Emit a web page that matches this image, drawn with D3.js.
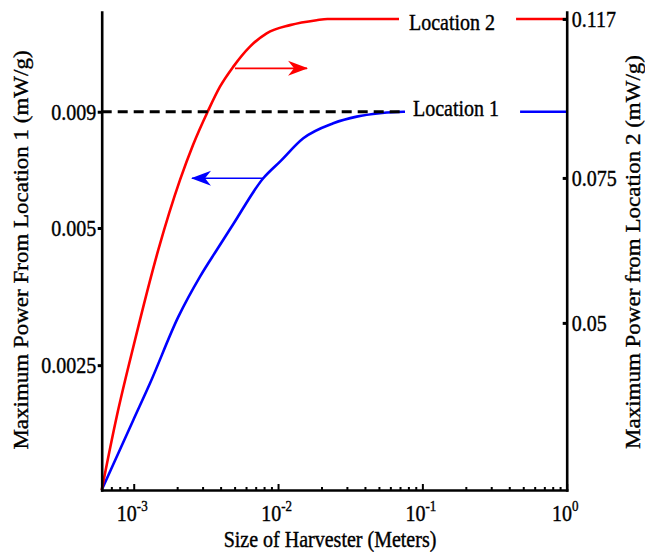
<!DOCTYPE html>
<html>
<head>
<meta charset="utf-8">
<script src="https://cdn.jsdelivr.net/npm/d3@7"></script>
<style>
  html, body { margin: 0; padding: 0; background: #fff; }
  svg { display: block; }
  text { font-family: "Liberation Serif", "Times New Roman", serif; fill: #000; stroke: #000; stroke-width: 0.35px; }
</style>
</head>
<body>
<svg id="chart" width="645" height="552"></svg>
<script>
// Harvester size (m) and maximum power for each location
const sizesLoc1 = [6e-4, 9.94e-4, 1.297e-3, 2.04e-3, 2.88e-3, 3.76e-3, 4.90e-3, 7.90e-3, 0.01032, 0.01496, 0.02414, 0.0351, 0.0508, 0.0738, 0.2, 1];
const powerLoc1 = [0.00133, 0.001895, 0.002281, 0.003194, 0.003911, 0.004475, 0.005102, 0.00643, 0.006995, 0.00787, 0.00849, 0.00878, 0.00893, 0.009, 0.009, 0.009];

const sizesLoc2 = [6e-4, 7.62e-4, 9.94e-4, 1.48e-3, 2.093e-3, 2.575e-3, 3.271e-3, 3.96e-3, 4.90e-3, 6.39e-3, 8.34e-3, 0.0121, 0.0185, 0.022, 0.05, 0.2, 1];
const powerLoc2 = [0.03133, 0.03846, 0.04677, 0.06132, 0.07458, 0.08225, 0.09046, 0.09681, 0.1024, 0.1083, 0.1124, 0.1150, 0.1166, 0.117, 0.117, 0.117, 0.117];

// Axis domains and ticks
const sizeDomain = [6e-4, 1];
const loc1Domain = [0.00133, 0.0149];
const loc2Domain = [0.03133, 0.1193];
const sizeTicks = [-3, -2, -1, 0];
const loc1Ticks = [0.0025, 0.005, 0.009];
const loc1TickLabels = ["0.0025", "0.005", "0.009"];
const loc2Ticks = [0.05, 0.075, 0.117];
const loc2TickLabels = ["0.05", "0.075", "0.117"];

// Peak-power reference line for location 1
const refLevel = 0.009;
const refSpan = [6e-4, 0.072];

// Direction arrows: [start size, end size, power]
const arrowLoc2 = [5.03e-3, 0.01588, 0.1019];
const arrowLoc1 = [7.87e-3, 2.535e-3, 0.00643];

const seriesNames = ["Location 1", "Location 2"];

const svg = d3.select("#chart");
const plotLeft = 101.7, plotRight = 566.7, plotTop = 12, plotBottom = 490;
const stretch = 1.15;

const x = d3.scaleLog().domain(sizeDomain).range([plotLeft, plotRight]);
const yL = d3.scaleLog().domain(loc1Domain).range([plotBottom, plotTop]);
const yR = d3.scaleLog().domain(loc2Domain).range([plotBottom, plotTop]);

function hText(parent, px, py, str, anchor, size) {
  return parent.append("text")
    .attr("transform", `translate(${px},${py}) scale(1,${stretch})`)
    .attr("text-anchor", anchor)
    .attr("font-size", size || 20)
    .text(str);
}

// Curves
const line1 = d3.line().x((d, i) => x(sizesLoc1[i])).y(d => yL(d)).curve(d3.curveMonotoneX);
const line2 = d3.line().x((d, i) => x(sizesLoc2[i])).y(d => yR(d)).curve(d3.curveMonotoneX);

svg.append("path").attr("d", line1(powerLoc1))
  .attr("fill", "none").attr("stroke", "#0000ff").attr("stroke-width", 2.6);
svg.append("path").attr("d", line2(powerLoc2))
  .attr("fill", "none").attr("stroke", "#ff0000").attr("stroke-width", 2.6);

// Reference dashed line
svg.append("line")
  .attr("x1", x(refSpan[0])).attr("x2", x(refSpan[1]))
  .attr("y1", yL(refLevel)).attr("y2", yL(refLevel))
  .attr("stroke", "#000").attr("stroke-width", 3).attr("stroke-dasharray", "10,6");

// Series labels sitting on the plateaus, with a white box breaking the line
function seriesLabel(name, yLine, baselineOffset, tx, gapLeft) {
  const g = svg.append("g");
  const bg = g.append("rect").attr("fill", "#fff");
  const t = hText(g, tx, yLine + baselineOffset, name, "start");
  const w = t.node().getComputedTextLength();
  bg.attr("x", gapLeft).attr("width", tx + w + 21 - gapLeft)
    .attr("y", yLine - 5).attr("height", 10);
  return g;
}
seriesLabel(seriesNames[1], yR(0.117), 11.5, 409, 399);
seriesLabel(seriesNames[0], yL(0.009), 4.3, 413, 405);

// Arrows
const defs = svg.append("defs");
function marker(id, color) {
  defs.append("marker").attr("id", id)
    .attr("viewBox", "0 -8 20 16").attr("refX", 19).attr("refY", 0)
    .attr("markerUnits", "userSpaceOnUse")
    .attr("markerWidth", 20).attr("markerHeight", 16)
    .attr("orient", "auto")
    .append("path").attr("d", "M0,-7.5 L20,0 L0,7.5 L6,0 Z").attr("fill", color);
}
marker("headRed", "#ff0000");
marker("headBlue", "#0000ff");

svg.append("line")
  .attr("x1", x(arrowLoc2[0])).attr("x2", x(arrowLoc2[1]))
  .attr("y1", yR(arrowLoc2[2])).attr("y2", yR(arrowLoc2[2]))
  .attr("stroke", "#ff0000").attr("stroke-width", 1.6)
  .attr("marker-end", "url(#headRed)");
svg.append("line")
  .attr("x1", x(arrowLoc1[0])).attr("x2", x(arrowLoc1[1]))
  .attr("y1", yL(arrowLoc1[2])).attr("y2", yL(arrowLoc1[2]))
  .attr("stroke", "#0000ff").attr("stroke-width", 1.6)
  .attr("marker-end", "url(#headBlue)");

// Axes
const axisW = 2.6;

// Bottom axis: decade ticks and minor ticks, pointing inward
const minorTicks = [];
for (let e = -4; e < 0; e++) {
  for (let m = 2; m <= 9; m++) {
    const v = m * Math.pow(10, e);
    if (v > sizeDomain[0] * 1.001 && v < 1) minorTicks.push(v);
  }
}
const gx = svg.append("g").attr("transform", `translate(0,${plotBottom})`);
gx.call(d3.axisBottom(x).tickValues(minorTicks).tickSizeInner(-3).tickSizeOuter(0).tickFormat(""));
const gxMajor = svg.append("g").attr("transform", `translate(0,${plotBottom})`);
gxMajor.call(d3.axisBottom(x).tickValues(sizeTicks.map(e => Math.pow(10, e))).tickSizeInner(-6).tickSizeOuter(0).tickFormat(""));
gxMajor.select(".domain").remove();
gx.select(".domain").attr("stroke-width", axisW).attr("stroke-linecap", "square");
svg.selectAll(".tick line").attr("stroke-width", 2);

sizeTicks.forEach(e => {
  const t = hText(svg, x(Math.pow(10, e)) - 1.5, 521, "", "middle");
  t.append("tspan").text("10");
  t.append("tspan").attr("font-size", 13).attr("dy", -8.7).text(String(e));
});

// Left axis (location 1)
const gyL = svg.append("g").attr("transform", `translate(${plotLeft},0)`);
gyL.call(d3.axisLeft(yL).tickValues(loc1Ticks).tickSizeInner(4).tickSizeOuter(0).tickFormat(""));
gyL.select(".domain").attr("stroke-width", axisW).attr("stroke-linecap", "square");
gyL.selectAll(".tick line").attr("stroke-width", 3);
loc1Ticks.forEach((v, i) => {
  hText(svg, plotLeft - 5.5, yL(v), loc1TickLabels[i], "end").attr("dy", "0.34em");
});

// Right axis (location 2)
const gyR = svg.append("g").attr("transform", `translate(${plotRight},0)`);
gyR.call(d3.axisLeft(yR).tickValues(loc2Ticks).tickSizeInner(4).tickSizeOuter(0).tickFormat(""));
gyR.select(".domain").attr("stroke-width", axisW).attr("stroke-linecap", "square");
gyR.selectAll(".tick line").attr("stroke-width", 3);
loc2Ticks.forEach((v, i) => {
  hText(svg, plotRight + 5, yR(v), loc2TickLabels[i], "start").attr("dy", "0.34em");
});

svg.selectAll(".domain, .tick line").attr("stroke", "#000");

// Axis titles
hText(svg, 330, 546.5, "Size of Harvester (Meters)", "middle");
svg.append("text")
  .attr("transform", `translate(28,250) rotate(-90) scale(${stretch},1)`)
  .attr("text-anchor", "middle").attr("font-size", 20)
  .text("Maximum Power From Location 1 (mW/g)");
svg.append("text")
  .attr("transform", `translate(640,252) rotate(-90) scale(${stretch},1)`)
  .attr("text-anchor", "middle").attr("font-size", 20)
  .text("Maximum Power from Location 2 (mW/g)");
</script>
</body>
</html>
